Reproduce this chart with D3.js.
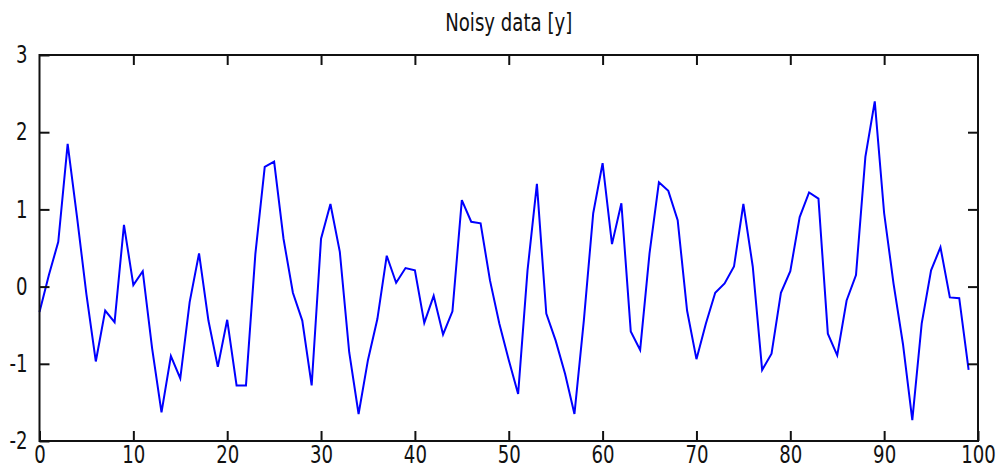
<!DOCTYPE html>
<html>
<head>
<meta charset="utf-8">
<script src="https://cdn.jsdelivr.net/npm/d3@7"></script>
<style>
  html, body { margin: 0; padding: 0; background: #fff; }
  svg { display: block; }
  .lbl { font-family: "DejaVu Sans Condensed", "Liberation Sans Narrow", "Liberation Sans", sans-serif; fill: #111; }
</style>
</head>
<body>
<svg id="chart" width="997" height="472"></svg>
<script>
// Noisy signal samples, index 0..99
const xValues = d3.range(0, 100);
const yValues = [
  -0.33, 0.15, 0.58, 1.85, 0.90, -0.10, -0.97, -0.31, -0.46, 0.80,
  0.02, 0.20, -0.80, -1.63, -0.90, -1.19, -0.20, 0.43, -0.44, -1.04,
  -0.43, -1.28, -1.28, 0.42, 1.55, 1.62, 0.62, -0.08, -0.44, -1.28,
  0.62, 1.07, 0.45, -0.85, -1.65, -0.95, -0.42, 0.40, 0.05, 0.24,
  0.21, -0.47, -0.12, -0.62, -0.32, 1.12, 0.84, 0.82, 0.08, -0.48,
  -0.95, -1.39, 0.21, 1.33, -0.35, -0.70, -1.13, -1.65, -0.44, 0.95,
  1.60, 0.55, 1.08, -0.58, -0.82, 0.43, 1.35, 1.24, 0.86, -0.31,
  -0.94, -0.48, -0.08, 0.04, 0.26, 1.07, 0.26, -1.08, -0.87, -0.08,
  0.20, 0.90, 1.22, 1.14, -0.61, -0.89, -0.18, 0.15, 1.68, 2.40,
  0.95, 0.04, -0.74, -1.73, -0.48, 0.21, 0.51, -0.14, -0.15, -1.08
];
const xTicks = [0, 10, 20, 30, 40, 50, 60, 70, 80, 90, 100];
const yTicks = [-2, -1, 0, 1, 2, 3];
const titleText = "Noisy data [y]";

const svg = d3.select("#chart");
const plot = { left: 39.5, right: 978, top: 55, bottom: 441 };
const squeeze = 0.84;   // narrow, tall lettering
const fontSize = 24;

const x = d3.scaleLinear().domain([0, 100]).range([plot.left, plot.right]);
const y = d3.scaleLinear().domain([-2, 3]).range([plot.bottom, plot.top]);
const plain = d => String(d);   // hyphen-minus labels

// data line
const line = d3.line().x((d, i) => x(xValues[i])).y(d => y(d));
svg.append("path")
  .datum(yValues)
  .attr("d", line)
  .attr("fill", "none")
  .attr("stroke", "#0000ff")
  .attr("stroke-width", 2)
  .attr("stroke-linejoin", "miter");

// axes with inward ticks on all four sides
const tickLen = 10;
const axisColor = "#111";
function styleAxis(g) {
  g.select(".domain").remove();
  g.selectAll(".tick line").attr("stroke", axisColor).attr("stroke-width", 2);
  g.selectAll(".tick text").attr("class", "lbl").attr("font-size", fontSize);
}

svg.append("g")
  .attr("transform", `translate(0,${plot.bottom})`)
  .call(d3.axisBottom(x).tickValues(xTicks).tickSize(-tickLen).tickFormat(plain))
  .call(styleAxis)
  .call(g => g.selectAll(".tick text")
    .attr("x", 0).attr("y", 0).attr("dy", "0.75em")
    .attr("transform", `translate(0,4) scale(${squeeze},1)`));

svg.append("g")
  .attr("transform", `translate(0,${plot.top})`)
  .call(d3.axisTop(x).tickValues(xTicks.slice(1, -1)).tickSize(-tickLen).tickFormat(""))
  .call(styleAxis);

svg.append("g")
  .attr("transform", `translate(${plot.left},0)`)
  .call(d3.axisLeft(y).tickValues(yTicks).tickSize(-tickLen).tickFormat(plain))
  .call(styleAxis)
  .call(g => g.selectAll(".tick text")
    .attr("x", 0)
    .attr("transform", `translate(-12,0) scale(${squeeze},1)`));

svg.append("g")
  .attr("transform", `translate(${plot.right},0)`)
  .call(d3.axisRight(y).tickValues(yTicks.slice(1, -1)).tickSize(-tickLen).tickFormat(""))
  .call(styleAxis);

// frame
svg.append("rect")
  .attr("x", plot.left).attr("y", plot.top)
  .attr("width", plot.right - plot.left).attr("height", plot.bottom - plot.top)
  .attr("fill", "none")
  .attr("stroke", axisColor)
  .attr("stroke-width", 2);

// title
svg.append("text")
  .attr("class", "lbl")
  .attr("text-anchor", "middle")
  .attr("font-size", fontSize)
  .attr("transform", `translate(${(plot.left + plot.right) / 2},31) scale(${squeeze},1)`)
  .text(titleText);
</script>
</body>
</html>
